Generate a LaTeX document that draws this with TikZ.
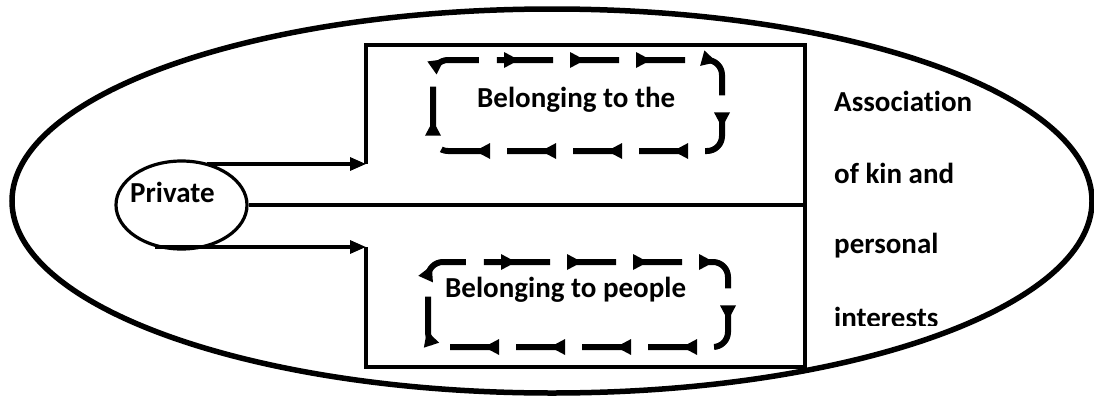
\documentclass[tikz,border=0pt]{standalone}
\usepackage{fontspec}
\setmainfont{Carlito}[Ligatures=NoCommon]
\usetikzlibrary{shapes.geometric,arrows.meta,decorations.markings}
\begin{document}
\begin{tikzpicture}[x=1pt,y=-1pt,
  lbl/.style={font=\bfseries\fontsize{29}{34}\selectfont,inner sep=0pt},
  box/.style={line width=3.8pt},
  flow/.style={line width=3.2pt,-{Triangle[length=16pt,width=13pt]}},
  loopline/.style={line width=6pt,rounded corners=15pt,dash pattern=on 48pt off 18pt,
    postaction={decorate,decoration={markings,
      mark=between positions 8pt and -20pt step 66pt with {\fill[sharp corners,solid] (6pt,0pt) -- (-9pt,8pt) -- (-9pt,-8pt) -- cycle;}}}}]
\useasboundingbox (0,0) rectangle (1094,399);
% outer ellipse
\node[ellipse,draw,line width=5.5pt,minimum width=1080pt,minimum height=384pt,inner sep=0pt] (outer) at (552,201) {};
% private ellipse
\node[ellipse,draw,line width=3.2pt,minimum width=131pt,minimum height=88pt,inner sep=0pt] (priv) at (181.5,205) {};
\node[lbl,anchor=base west] (privtext) at (130,202) {Private};
% rectangle
\coordinate (ut) at (366,164);
\coordinate (lt) at (366,247);
\coordinate (us) at (207,164);
\coordinate (ls) at (155,247);
\coordinate (mid) at (805,205);
\draw[box] (ut) -- (366,45) -- (805,45) -- (805,367) -- (366,367) -- (lt);
\draw[flow] (us) -- (ut);
\draw[flow] (ls) -- (lt);
\draw[box] (priv.east) -- (mid);
% upper loop
\coordinate (a0) at (490,60);
\coordinate (a1) at (722,60);
\coordinate (a2) at (722,151);
\coordinate (a3) at (433,151);
\coordinate (a4) at (433,60);
\draw[loopline] (a0) -- (a1) -- (a2) -- (a3) -- (a4) -- cycle;
\node[lbl,anchor=base west] (t1) at (477,107) {Belonging to the};
% lower loop
\coordinate (b0) at (487,262);
\coordinate (b1) at (728,262);
\coordinate (b2) at (728,347);
\coordinate (b3) at (428,347);
\coordinate (b4) at (428,262);
\draw[loopline] (b0) -- (b1) -- (b2) -- (b3) -- (b4) -- cycle;
\node[lbl,anchor=base west] (t2) at (445,297) {Belonging to people};
% right text
\node[lbl,anchor=base west] (r1) at (834,111) {Association};
\node[lbl,anchor=base west] (r2) at (834,183) {of kin and};
\node[lbl,anchor=base west] (r3) at (834,253) {personal};
\begin{scope}
\clip (820,290) rectangle (1000,325);
\node[lbl,anchor=base west] (r4) at (834,327) {interests};
\end{scope}
\end{tikzpicture}
\end{document}
